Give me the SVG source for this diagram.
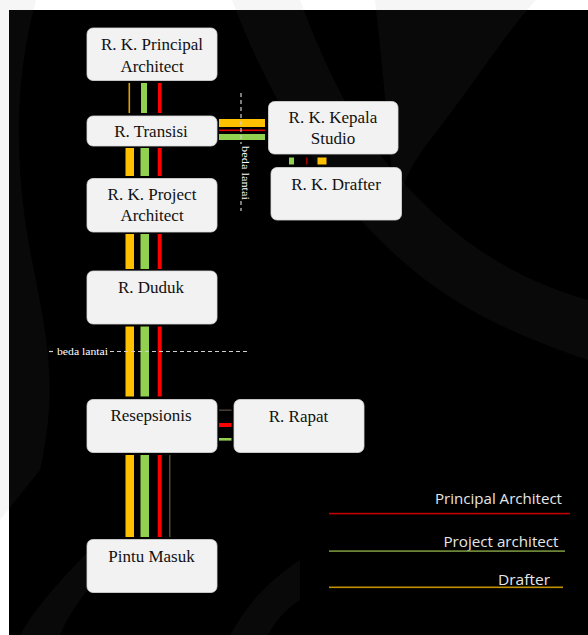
<svg xmlns="http://www.w3.org/2000/svg" width="588" height="635" viewBox="0 0 588 635">
  <defs>
    <style>
      .node rect { fill: #f2f2f2; stroke: #d9d9d9; stroke-width: 0.8; }
      .node text { font-family: "Liberation Serif", "Times New Roman", serif; font-size: 17px; fill: #111111; text-anchor: middle; }
      .lvl { fill: none; stroke: #cfcfcf; stroke-width: 1.2; stroke-dasharray: 4 3; }
      .lvl-label { font-family: "Liberation Serif", "Times New Roman", serif; font-size: 9.5px; fill: #ffffff; }
      .legend text { font-family: "Open Sans", "Liberation Sans", sans-serif; font-size: 14.5px; fill: #e6e6e6; text-anchor: end; }
      .yel { fill: #ffc000; }
      .grn { fill: #92d050; }
      .red { fill: #ff0000; }
      .wm { fill: #808080; opacity: 0.07; }
    </style>
  </defs>

  <!-- page margin and dark canvas -->
  <rect x="0" y="0" width="588" height="635" fill="#ffffff"/>
  <rect x="9" y="10" width="579" height="625" fill="#000000"/>

  <!-- faint background emblem -->
  <g id="emblem">
    <path class="wm" d="M0 0 L36 0 C20 60 10 140 30 250 C45 330 60 380 40 470 L0 520 Z"/>
    <path class="wm" d="M232 0 L300 0 C330 80 360 140 420 200 C470 250 520 280 588 300 L588 360 C500 330 440 300 380 240 C320 180 270 100 232 0 Z"/>
    <path class="wm" d="M375 0 L536 0 C500 40 470 90 430 140 C410 165 400 190 395 210 C390 150 385 90 375 0 Z"/>
    <path class="wm" d="M20 635 C40 600 70 570 100 540 L115 560 C90 585 70 610 60 635 Z"/>
    <path class="wm" d="M230 635 C250 600 270 580 300 560 L300 600 C285 610 275 622 268 635 Z"/>
  </g>

  <!-- colour-coded access routes -->
  <g id="connectors">
    <!-- R. K. Principal Architect to R. Transisi -->
    <rect x="128.5" y="83" width="1.6" height="30" fill="#e0a000"/>
    <rect class="grn" x="141" y="83" width="6" height="30"/>
    <rect class="red" x="158" y="83" width="3.6" height="30"/>

    <!-- R. Transisi to R. K. Kepala Studio -->
    <rect class="yel" x="219" y="119" width="46" height="8"/>
    <rect x="219" y="129.5" width="46" height="1.6" fill="#e00000"/>
    <rect class="grn" x="219" y="134" width="46" height="6"/>

    <!-- R. K. Kepala Studio to R. K. Drafter -->
    <rect class="grn" x="289" y="157.5" width="5" height="7"/>
    <rect x="306" y="157.5" width="1.6" height="7" fill="#a00000"/>
    <rect class="yel" x="317.5" y="157.5" width="9" height="7"/>

    <!-- R. Transisi to R. K. Project Architect -->
    <rect class="yel" x="125.5" y="148" width="8.5" height="28"/>
    <rect class="grn" x="140.5" y="148" width="8.5" height="28"/>
    <rect class="red" x="157.7" y="148" width="4" height="28"/>

    <!-- R. K. Project Architect to R. Duduk -->
    <rect class="yel" x="125.5" y="234" width="8.5" height="35"/>
    <rect class="grn" x="140.5" y="234" width="8.5" height="35"/>
    <rect class="red" x="157.7" y="234" width="4" height="35"/>

    <!-- R. Duduk to Resepsionis -->
    <rect class="yel" x="125.5" y="326.5" width="8.5" height="70"/>
    <rect class="grn" x="140.5" y="326.5" width="8.5" height="70"/>
    <rect class="red" x="157.7" y="326.5" width="4" height="70"/>

    <!-- Resepsionis to R. Rapat -->
    <rect x="219" y="409.5" width="12.5" height="1.4" fill="#4d4238"/>
    <rect class="red" x="219" y="423" width="12.5" height="4"/>
    <rect class="grn" x="219" y="438" width="12.5" height="2.6"/>

    <!-- Resepsionis to Pintu Masuk -->
    <rect class="yel" x="125.5" y="455" width="8.5" height="82"/>
    <rect class="grn" x="140.5" y="455" width="8.5" height="82"/>
    <rect class="red" x="157.7" y="455" width="4" height="82"/>
    <rect x="169.2" y="455" width="1.2" height="82" fill="#6b5a45"/>
  </g>

  <!-- level changes -->
  <g id="level-marks">
    <line class="lvl" x1="241" y1="93" x2="241" y2="144"/>
    <line class="lvl" x1="241" y1="201" x2="241" y2="211"/>
    <text class="lvl-label" transform="translate(241.5 146) rotate(90)" textLength="54" lengthAdjust="spacingAndGlyphs">beda lantai</text>

    <line class="lvl" x1="49" y1="351.5" x2="55" y2="351.5"/>
    <line class="lvl" x1="110" y1="351.5" x2="247" y2="351.5"/>
    <text class="lvl-label" x="57" y="354.5" textLength="51" lengthAdjust="spacingAndGlyphs">beda lantai</text>
  </g>

  <!-- rooms -->
  <g id="principal" class="node">
    <rect x="87" y="28" width="130" height="52.5" rx="6"/>
    <text x="152" y="50">R. K. Principal</text>
    <text x="152" y="72">Architect</text>
  </g>
  <g id="transisi" class="node">
    <rect x="87" y="116" width="130" height="30" rx="6"/>
    <text x="151" y="137">R. Transisi</text>
  </g>
  <g id="kepala-studio" class="node">
    <rect x="268.5" y="101.5" width="129.5" height="52.5" rx="6"/>
    <text x="333" y="123">R. K. Kepala</text>
    <text x="333" y="144">Studio</text>
  </g>
  <g id="drafter" class="node">
    <rect x="271" y="167.5" width="130.5" height="52.5" rx="6"/>
    <text x="336" y="190">R. K. Drafter</text>
  </g>
  <g id="project-architect" class="node">
    <rect x="87" y="178.5" width="130" height="53.5" rx="6"/>
    <text x="152" y="200">R. K. Project</text>
    <text x="152" y="221">Architect</text>
  </g>
  <g id="duduk" class="node">
    <rect x="87" y="271" width="130" height="53" rx="6"/>
    <text x="151" y="293">R. Duduk</text>
  </g>
  <g id="resepsionis" class="node">
    <rect x="87" y="399.5" width="130" height="53" rx="6"/>
    <text x="151" y="421">Resepsionis</text>
  </g>
  <g id="rapat" class="node">
    <rect x="234" y="399.5" width="130" height="53" rx="6"/>
    <text x="298.5" y="421.5">R. Rapat</text>
  </g>
  <g id="pintu-masuk" class="node">
    <rect x="87" y="539.5" width="130" height="53" rx="6"/>
    <text x="151.5" y="561.5">Pintu Masuk</text>
  </g>

  <!-- legend -->
  <g id="legend" class="legend">
    <text x="562" y="504" textLength="127" lengthAdjust="spacingAndGlyphs">Principal Architect</text>
    <rect x="329" y="512.8" width="241" height="1.6" fill="#c00000"/>
    <text x="558.5" y="547" textLength="115" lengthAdjust="spacingAndGlyphs">Project architect</text>
    <rect x="329" y="550.3" width="236" height="1.6" fill="#77933c"/>
    <text x="550" y="585" textLength="52" lengthAdjust="spacingAndGlyphs">Drafter</text>
    <rect x="329" y="586.5" width="234" height="1.6" fill="#c09000"/>
  </g>
</svg>
